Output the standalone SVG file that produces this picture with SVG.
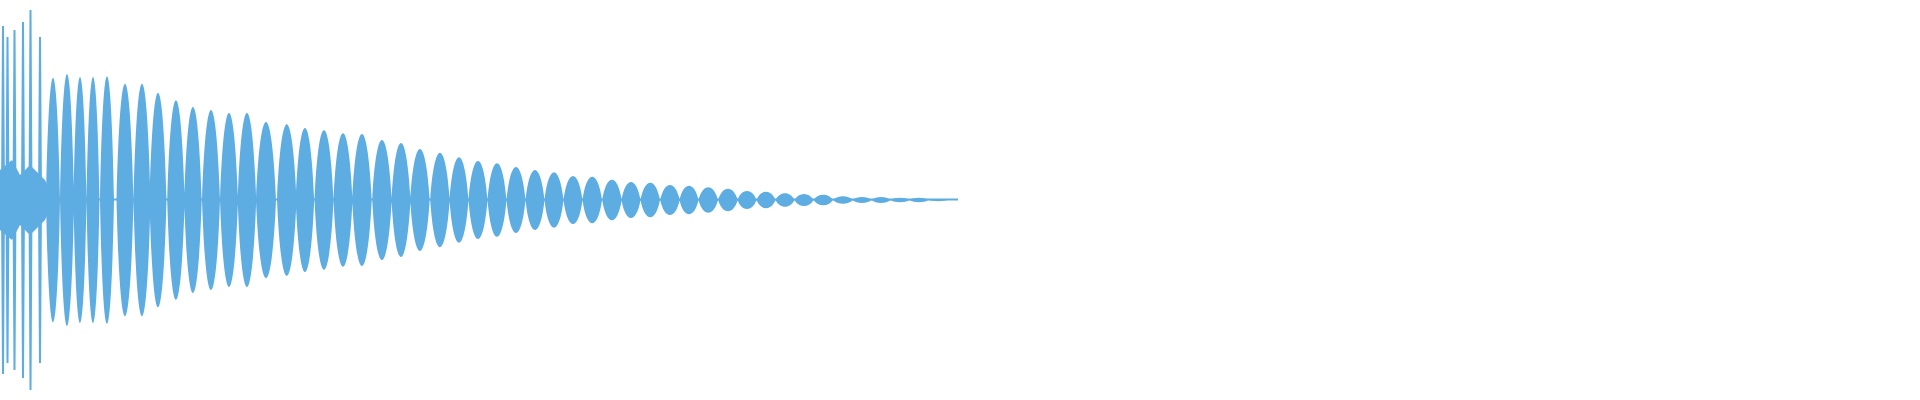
<svg xmlns="http://www.w3.org/2000/svg" width="1920" height="400" viewBox="0 0 1920 400">
<style>path,rect{fill:#5dade2}</style>
<rect width="1920" height="400" style="fill:#fff"/>
<g id="waveform">
<rect x="0" y="198.5" width="958" height="2"/>
<path d="M0,200 L0,170 L12,160 L20,175 L30,165 L45,180 L52,195 L52,205 L45,220 L30,235 L20,225 L12,240 L0,230 Z"/>
<path d="m1,200 l1,-174 h2 l1,174 l-1,174 h-2 z m4.5,0 l1,-163 h2 l1,163 l-1,163 h-2 z m7,0 l1,-170 h2 l1,170 l-1,170 h-2 z m8.5,0 l1,-178 h2 l1,178 l-1,178 h-2 z m7.5,0 l1,-190 h2 l1,190 l-1,190 h-2 z m9.5,0 l1,-163 h2 l1,163 l-1,163 h-2 z"/>
<path d="m46,200 c3.1,-163 10.9,-163 14,0 c-3.1,163 -10.9,163 -14,0 z
m14,0 c3.1,-168 10.9,-168 14,0 c-3.1,168 -10.9,168 -14,0 z
m13.5,0 c2.9,-164 10.1,-164 13,0 c-2.9,164 -10.1,164 -13,0 z
m13,0 c2.9,-164 10.1,-164 13,0 c-2.9,164 -10.1,164 -13,0 z
m13.5,0 c3.1,-165 10.9,-165 14,0 c-3.1,165 -10.9,165 -14,0 z
m16.5,0 c3.7,-155 13.3,-155 17,0 c-3.7,155 -13.3,155 -17,0 z
m17,0 c3.7,-155 13.3,-155 17,0 c-3.7,155 -13.3,155 -17,0 z
m16,0 c3.7,-143 13.3,-143 17,0 c-3.7,143 -13.3,143 -17,0 z
m17.7,0 c3.9,-133 13.6,-133 17.5,0 c-3.9,133 -13.6,133 -17.5,0 z
m17,0 c3.9,-124 13.6,-124 17.5,0 c-3.9,124 -13.6,124 -17.5,0 z
m17.8,0 c4,-120 14,-120 18,0 c-4,120 -14,120 -18,0 z
m18,0 c4,-116 14,-116 18,0 c-4,116 -14,116 -18,0 z
m17.7,0 c4.1,-116 14.4,-116 18.5,0 c-4.1,116 -14.4,116 -18.5,0 z
m18.3,0 c4.4,-104 15.6,-104 20,0 c-4.4,104 -15.6,104 -20,0 z
m21,0 c4.3,-101 15.2,-101 19.5,0 c-4.3,101 -15.2,101 -19.5,0 z
m18.7,0 c4.1,-96 14.4,-96 18.5,0 c-4.1,96 -14.4,96 -18.5,0 z
m18.8,0 c4.2,-93 14.8,-93 19,0 c-4.2,93 -14.8,93 -19,0 z
m19,0 c4.2,-89 14.8,-89 19,0 c-4.2,89 -14.8,89 -19,0 z
m18.7,0 c4.3,-88 15.2,-88 19.5,0 c-4.3,88 -15.2,88 -19.5,0 z
m20,0 c4.3,-80 15.2,-80 19.5,0 c-4.3,80 -15.2,80 -19.5,0 z
m19.3,0 c4.2,-76 14.8,-76 19,0 c-4.2,76 -14.8,76 -19,0 z
m18.7,0 c4.3,-68 15.2,-68 19.5,0 c-4.3,68 -15.2,68 -19.5,0 z
m20,0 c4.3,-63 15.2,-63 19.5,0 c-4.3,63 -15.2,63 -19.5,0 z
m19.3,0 c4.2,-57 14.8,-57 19,0 c-4.2,57 -14.8,57 -19,0 z
m19,0 c4.2,-52 14.8,-52 19,0 c-4.2,52 -14.8,52 -19,0 z
m19,0 c4.2,-49 14.8,-49 19,0 c-4.2,49 -14.8,49 -19,0 z
m19,0 c4.2,-44 14.8,-44 19,0 c-4.2,44 -14.8,44 -19,0 z
m19,0 c4.2,-40 14.8,-40 19,0 c-4.2,40 -14.8,40 -19,0 z
m19,0 c4.2,-37 14.8,-37 19,0 c-4.2,37 -14.8,37 -19,0 z
m19,0 c4.2,-32 14.8,-32 19,0 c-4.2,32 -14.8,32 -19,0 z
m19,0 c4.3,-31 15.2,-31 19.5,0 c-4.3,31 -15.2,31 -19.5,0 z
m19.7,0 c4.3,-27 15.2,-27 19.5,0 c-4.3,27 -15.2,27 -19.5,0 z
m19.3,0 c4.2,-24 14.8,-24 19,0 c-4.2,24 -14.8,24 -19,0 z
m19,0 c4.3,-23 15.2,-23 19.5,0 c-4.3,23 -15.2,23 -19.5,0 z
m19.7,0 c4.3,-20 15.2,-20 19.5,0 c-4.3,20 -15.2,20 -19.5,0 z
m19.3,0 c4.2,-19 14.8,-19 19,0 c-4.2,19 -14.8,19 -19,0 z
m19,0 c4.3,-17 15.2,-17 19.5,0 c-4.3,17 -15.2,17 -19.5,0 z
m19.7,0 c4.3,-15 15.2,-15 19.5,0 c-4.3,15 -15.2,15 -19.5,0 z
m19.3,0 c4.2,-12 14.8,-12 19,0 c-4.2,12 -14.8,12 -19,0 z
m19,0 c4.2,-11 14.8,-11 19,0 c-4.2,11 -14.8,11 -19,0 z
m19,0 c4.2,-9 14.8,-9 19,0 c-4.2,9 -14.8,9 -19,0 z
m19,0 c4.2,-8 14.8,-8 19,0 c-4.2,8 -14.8,8 -19,0 z
m19,0 c4.3,-7 15.2,-7 19.5,0 c-4.3,7 -15.2,7 -19.5,0 z
m19.7,0 c4.3,-5 15.2,-5 19.5,0 c-4.3,5 -15.2,5 -19.5,0 z
m19.3,0 c4.2,-4 14.8,-4 19,0 c-4.2,4 -14.8,4 -19,0 z
m19,0 c4.2,-4 14.8,-4 19,0 c-4.2,4 -14.8,4 -19,0 z
m19,0 c4.2,-3 14.8,-3 19,0 c-4.2,3 -14.8,3 -19,0 z
m19,0 c4.2,-3 14.8,-3 19,0 c-4.2,3 -14.8,3 -19,0 z
m19,0 c4.2,-1.5 14.8,-1.5 19,0 c-4.2,1.5 -14.8,1.5 -19,0 z"/>
</g>
</svg>
